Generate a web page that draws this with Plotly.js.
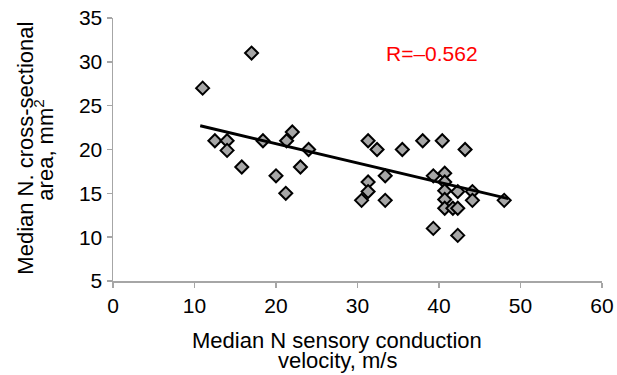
<!DOCTYPE html>
<html>
<head>
<meta charset="utf-8">
<script src="https://cdn.plot.ly/plotly-3.0.1.min.js"></script>
<style>html,body{margin:0;padding:0;background:#fff;}#chart{width:617px;height:375px;}</style>
</head>
<body>
<div id="chart"></div>
<script>
const velocity = [11, 17, 12.5, 14, 14, 15.8, 18.4, 20, 21.2, 21.3, 22, 23, 24,
  31.3, 32.4, 35.5, 38, 40.4, 43.2, 33.4, 31.3, 31.3, 30.5, 33.4,
  39.3, 40.7, 40.7, 40.7, 40.7, 40.7, 42.3, 41.7, 42.3, 44.1, 44.1, 39.3, 42.3, 48];
const area = [27, 31, 21, 21, 19.9, 18, 21, 17, 15, 21, 22, 18, 20,
  21, 20, 20, 21, 21, 20, 17, 16.3, 15.2, 14.2, 14.2,
  17, 17.3, 16.3, 15.3, 14.3, 13.3, 15.2, 13.3, 13.3, 15.2, 14.2, 11, 10.2, 14.2];
const trendX = [10.7, 48.5];
const trendY = [22.7, 14.4];
const rLabel = 'R=\u20130.562';
const xTitleLines = ['Median N sensory conduction', 'velocity, m/s'];
const yTitleLines = ['Median N. cross-sectional', 'area, mm<sup>2</sup>'];

const font = 'Liberation Sans, Arial, Helvetica, sans-serif';
const traces = [
  {x: velocity, y: area, type: 'scatter', mode: 'markers',
   marker: {symbol: 'diamond', size: 10, color: '#a6a6a6', line: {color: '#000', width: 2}},
   hoverinfo: 'skip', showlegend: false},
  {x: trendX, y: trendY, type: 'scatter', mode: 'lines',
   line: {color: '#000', width: 3}, hoverinfo: 'skip', showlegend: false}
];
const axisCommon = {showgrid: false, zeroline: false, showline: true, linecolor: '#a6a6a6', linewidth: 1.5,
  ticks: 'outside', ticklen: 5, tickcolor: '#a6a6a6', tickwidth: 1.5,
  tickfont: {family: font, size: 21, color: '#000'}};
const titleFont = {family: font, size: 22, color: '#000'};
const layout = {
  width: 617, height: 375,
  margin: {l: 112.7, r: 14.7, t: 17.5, b: 94},
  paper_bgcolor: '#fff', plot_bgcolor: '#fff',
  xaxis: Object.assign({range: [0, 60], dtick: 10, tick0: 0}, axisCommon),
  yaxis: Object.assign({range: [5, 35], dtick: 5, tick0: 5}, axisCommon),
  annotations: [
    {x: 39.2, y: 30.9, xref: 'x', yref: 'y', text: rLabel, showarrow: false,
     xanchor: 'center', yanchor: 'middle',
     font: {family: font, size: 21, color: '#ff0000'}},
    {x: 337, y: 375 - 340.5, xref: 'paper', yref: 'paper', text: xTitleLines[0], showarrow: false,
     xanchor: 'center', yanchor: 'middle', font: titleFont},
    {x: 337.5, y: 375 - 360.5, xref: 'paper', yref: 'paper', text: xTitleLines[1], showarrow: false,
     xanchor: 'center', yanchor: 'middle', font: titleFont},
    {x: 25, y: 375 - 148, xref: 'paper', yref: 'paper', text: yTitleLines[0], showarrow: false, textangle: -90,
     xanchor: 'center', yanchor: 'middle', font: titleFont},
    {x: 44, y: 375 - 150, xref: 'paper', yref: 'paper', text: yTitleLines[1], showarrow: false, textangle: -90,
     xanchor: 'center', yanchor: 'middle', font: titleFont}
  ]
};
// convert pixel-based title anchors to paper fractions of the plot area
const pw = 617 - 112.7 - 14.7, ph = 375 - 17.5 - 94;
layout.annotations.slice(1).forEach(a => {
  a.x = (a.x - 112.7) / pw;
  a.y = (a.y - 94) / ph;
});
Plotly.newPlot('chart', traces, layout, {displayModeBar: false, staticPlot: true});
</script>
</body>
</html>
